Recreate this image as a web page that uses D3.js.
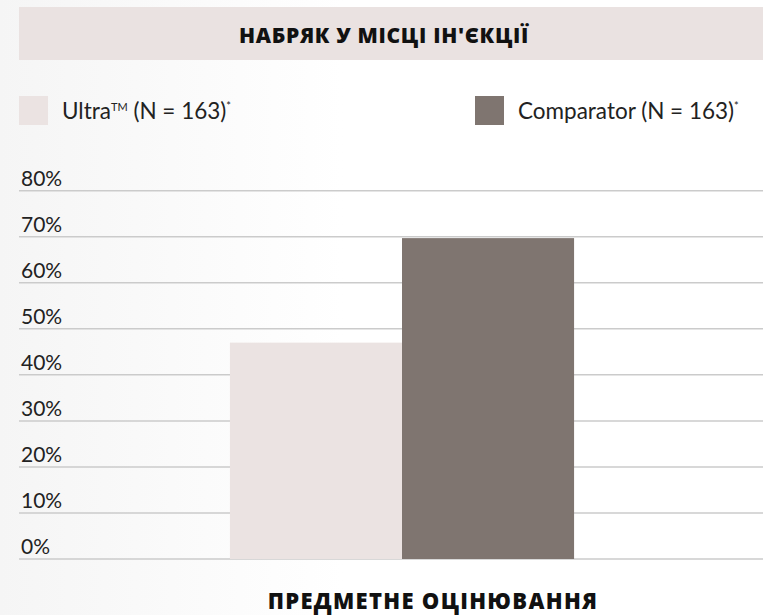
<!DOCTYPE html>
<html>
<head>
<meta charset="utf-8">
<script src="https://cdn.jsdelivr.net/npm/d3@7"></script>
<style>
  body { margin: 0; background: #fff; }
  svg { display: block; }
</style>
</head>
<body>
<div id="chart"></div>
<script>
// Swelling at injection site chart
const title = "НАБРЯК У МІСЦІ ІН'ЄКЦІЇ";
const xTitle = "ПРЕДМЕТНЕ ОЦІНЮВАННЯ";
const categories = ["Предметне оцінювання"];
const seriesNames = ["Ultra", "Comparator"];
const seriesLabels = [["Ultra", "TM", " (N = 163)", "*"], ["Comparator", "", " (N = 163)", "*"]];
const seriesValues = [[47], [69.7]];
const seriesColors = ["#ebe3e2", "#7f7570"];
const yTicks = [0, 10, 20, 30, 40, 50, 60, 70, 80];

const width = 763, height = 615;
const fontLight = "Lato, 'Open Sans', sans-serif";
const fontBold = "'Open Sans', 'Noto Sans', sans-serif";

const svg = d3.select('#chart').append('svg')
    .attr('width', width)
    .attr('height', height);

// faint shading on the left side
const defs = svg.append('defs');
const grad = defs.append('linearGradient').attr('id', 'bg').attr('x1', 0).attr('x2', 1);
grad.append('stop').attr('offset', 0).attr('stop-color', '#f5f5f5');
grad.append('stop').attr('offset', 0.45).attr('stop-color', '#ffffff');
svg.append('rect').attr('width', width).attr('height', height).attr('fill', 'url(#bg)');

// title band
svg.append('rect')
    .attr('x', 19).attr('y', 7)
    .attr('width', width - 19).attr('height', 53)
    .attr('fill', '#eae2e1');
svg.append('text')
    .attr('x', 384).attr('y', 43)
    .attr('text-anchor', 'middle')
    .attr('font-family', fontBold)
    .attr('font-weight', 800)
    .attr('font-size', 21)
    .attr('letter-spacing', 0.7)
    .attr('fill', '#111')
    .text(title);

// legend
const legendX = [19, 475];
const legend = svg.append('g').selectAll('g')
    .data(seriesNames)
    .join('g')
    .attr('transform', (d, i) => `translate(${legendX[i]},96)`);
legend.append('rect')
    .attr('width', 29).attr('height', 29)
    .attr('fill', (d, i) => seriesColors[i]);
const lt = legend.append('text')
    .attr('x', 43).attr('y', 22.5)
    .attr('font-family', fontLight)
    .attr('font-weight', 400)
    .attr('font-size', 22.5)
    .attr('fill', '#222');
lt.each(function(d, i) {
    const t = d3.select(this);
    const parts = seriesLabels[i];
    t.append('tspan').text(parts[0]);
    if (parts[1]) t.append('tspan').attr('font-size', 11).attr('dy', -8).text(parts[1]);
    t.append('tspan').attr('dy', parts[1] ? 8 : 0).text(parts[2]);
    t.append('tspan').attr('font-size', 11).attr('dy', -9).text(parts[3]);
});

// scales
const y = d3.scaleLinear().domain([0, 80]).range([559, 190.7]);
const x0 = d3.scaleBand().domain(categories).range([20, 784]).paddingOuter(0.61);
const x1 = d3.scaleBand().domain(seriesNames).range([0, x0.bandwidth()]);

// gridlines and labels
const grid = svg.append('g').selectAll('g')
    .data(yTicks)
    .join('g')
    .attr('transform', d => `translate(0,${y(d)})`);
grid.append('line')
    .attr('x1', 19).attr('x2', width)
    .attr('stroke', '#cbcbcb')
    .attr('stroke-width', 1.5);
grid.append('text')
    .attr('x', 21).attr('y', -5)
    .attr('font-family', fontLight)
    .attr('font-weight', 400)
    .attr('font-size', 21)
    .attr('fill', '#222')
    .text(d => d + '%');

// bars
const groups = svg.append('g').selectAll('g')
    .data(categories)
    .join('g')
    .attr('transform', d => `translate(${x0(d)},0)`);
groups.selectAll('rect')
    .data((d, ci) => seriesNames.map((s, si) => ({ s, v: seriesValues[si][ci], i: si })))
    .join('rect')
    .attr('x', d => x1(d.s))
    .attr('y', d => y(d.v))
    .attr('width', x1.bandwidth())
    .attr('height', d => y(0) - y(d.v))
    .attr('fill', d => seriesColors[d.i]);

// x axis title
svg.append('text')
    .attr('x', 433).attr('y', 609)
    .attr('text-anchor', 'middle')
    .attr('font-family', fontBold)
    .attr('font-weight', 800)
    .attr('font-size', 22)
    .attr('letter-spacing', 1.3)
    .attr('fill', '#111')
    .text(xTitle);
</script>
</body>
</html>
